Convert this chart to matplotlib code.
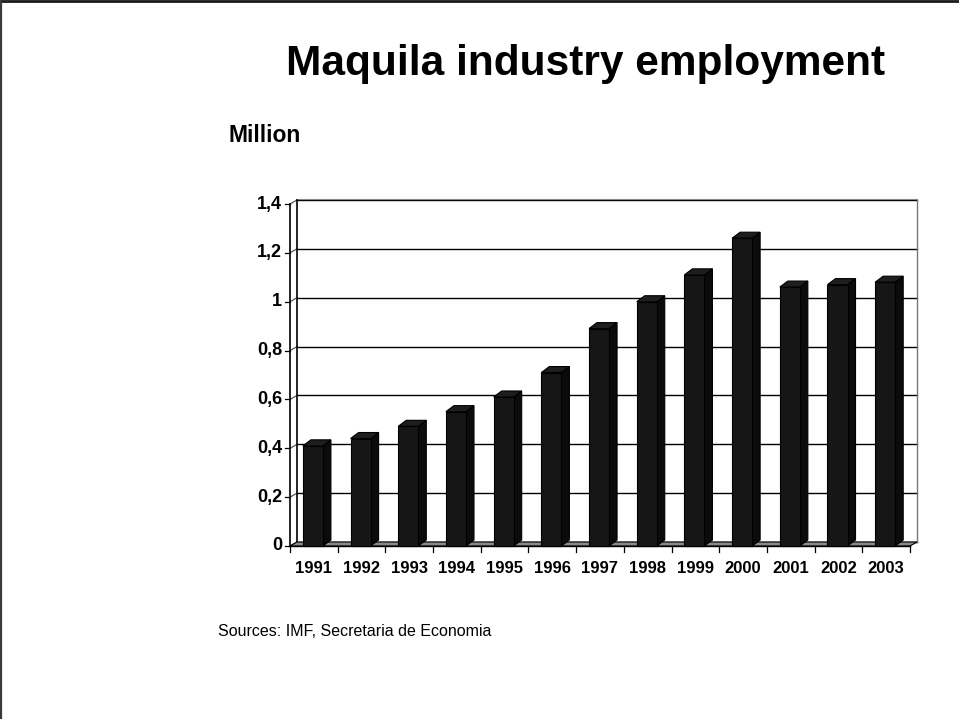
import matplotlib
matplotlib.use("Agg")
import matplotlib.pyplot as plt
from matplotlib.patches import Polygon, Rectangle
from matplotlib.lines import Line2D

plt.rcParams['font.family'] = ['Liberation Sans', 'DejaVu Sans']

# ---- data ----
years = ["1991", "1992", "1993", "1994", "1995", "1996", "1997",
         "1998", "1999", "2000", "2001", "2002", "2003"]
employment = [0.41, 0.44, 0.49, 0.55, 0.61, 0.71, 0.89,
              1.00, 1.11, 1.26, 1.06, 1.07, 1.08]
yticks = [0, 0.2, 0.4, 0.6, 0.8, 1.0, 1.2, 1.4]
ytick_labels = ["0", "0,2", "0,4", "0,6", "0,8", "1", "1,2", "1,4"]

W, H = 959, 719
fig = plt.figure(figsize=(W / 100, H / 100), dpi=100)
fig.patch.set_facecolor("white")

# axes placement (pixels)
x0, x1 = 290, 910
y0, y1 = 546, 204
ax = fig.add_axes([x0 / W, 1 - y0 / H, (x1 - x0) / W, (y0 - y1) / H])
n = len(years)
ymax = 1.4
ax.set_xlim(0, n)
ax.set_ylim(0, ymax)
ax.axis("off")

pxx = n / (x1 - x0)        # data units per pixel in x
pxy = ymax / (y0 - y1)     # data units per pixel in y
DX, DY = 7 * pxx, 4 * pxy  # wall depth
BDX, BDY = 8 * pxx, 6 * pxy  # bar depth

kw = dict(clip_on=False)

# floor
floor = Polygon([(0, 0), (n, 0), (n + DX, DY), (DX, DY)], closed=True,
                facecolor="#8a8a8a", edgecolor="black", lw=0.8, zorder=1, **kw)
ax.add_patch(floor)

# back wall gridlines and left-wall diagonals
for y in yticks:
    ax.add_line(Line2D([DX, n + DX], [y + DY, y + DY], color="black", lw=1.0, zorder=0.5, **kw))
    ax.add_line(Line2D([0, DX], [y, y + DY], color="#444444", lw=0.8, zorder=0.5, **kw))
    # tick marks
    ax.add_line(Line2D([-5 * pxx, 0], [y, y], color="black", lw=0.9, zorder=2, **kw))
# top edge (double line look)
ax.add_line(Line2D([DX, n + DX], [ymax + DY + 1.5 * pxy, ymax + DY + 1.5 * pxy],
                   color="#888888", lw=0.8, zorder=0.5, **kw))
# back wall edges
ax.add_line(Line2D([DX, DX], [DY, ymax + DY], color="black", lw=1.2, zorder=0.6, **kw))
ax.add_line(Line2D([n + DX, n + DX], [DY, ymax + DY], color="#777777", lw=1.0, zorder=0.6, **kw))
# front vertical axis
ax.add_line(Line2D([0, 0], [0, ymax], color="black", lw=1.2, zorder=2, **kw))
ax.add_line(Line2D([0, n], [0, 0], color="black", lw=1.0, zorder=2, **kw))

# x tick marks
for i in range(n + 1):
    ax.add_line(Line2D([i, i], [0, -6 * pxy], color="black", lw=0.9, zorder=2, **kw))

# y labels
for y, lab in zip(yticks, ytick_labels):
    ax.text(-8 * pxx, y, lab, ha="right", va="center", fontsize=13,
            fontweight="bold", color="black")

# x labels
for i, lab in enumerate(years):
    ax.text(i + 0.5, -15 * pxy, lab, ha="center", va="top", fontsize=12,
            fontweight="bold", color="black")

# bars
bl, bw = 0.27, 0.42
for i, v in enumerate(employment):
    l = i + bl
    r = l + bw
    side = Polygon([(r, 0), (r + BDX, BDY), (r + BDX, v + BDY), (r, v)], closed=True,
                   facecolor="#0b0b0b", edgecolor="black", lw=0.8, zorder=3, **kw)
    top = Polygon([(l, v), (r, v), (r + BDX, v + BDY), (l + BDX, v + BDY)], closed=True,
                  facecolor="#1e1e1e", edgecolor="black", lw=0.8, zorder=3, **kw)
    front = Rectangle((l, 0), bw, v, facecolor="#161616", edgecolor="black",
                      lw=0.8, zorder=4, **kw)
    ax.add_patch(side)
    ax.add_patch(top)
    ax.add_patch(front)

# texts
fig.text(586 / W, 1 - 64 / H, "Maquila industry employment", ha="center", va="center",
         fontsize=30.5, fontweight="bold", color="black")
fig.text(228 / W, 1 - 135 / H, "Million", ha="left", va="center",
         fontsize=16.5, fontweight="bold", color="black")
fig.text(218 / W, 1 - 632 / H, "Sources: IMF, Secretaria de Economia", ha="left",
         va="center", fontsize=11.5, color="black")

# slide border (top and left)
fig.add_artist(Line2D([0, 1], [1 - 1 / H, 1 - 1 / H], transform=fig.transFigure,
                      color="#1a1a1a", lw=2.0))
fig.add_artist(Line2D([1 / W, 1 / W], [0, 1], transform=fig.transFigure,
                      color="#3a3a3a", lw=1.6))

fig.savefig("out.png", dpi=100, facecolor="white")
